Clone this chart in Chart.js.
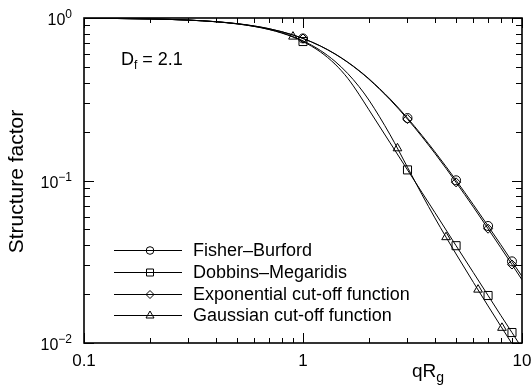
<!DOCTYPE html>
<html>
<head>
<meta charset="utf-8">
<script src="https://cdn.jsdelivr.net/npm/chart.js@4.4.1/dist/chart.umd.min.js"></script>
<style>
  html, body { margin: 0; padding: 0; background: #fff; }
</style>
</head>
<body>
<canvas id="sfCanvas" width="532" height="389"></canvas>
<script>
// structure factor curves, D_f = 2.1
var qRg = [0.1, 0.2, 0.3, 0.4, 0.5, 0.6, 0.7, 0.8, 0.9, 1, 1.2, 1.4, 1.6, 1.8, 2, 2.5, 3, 3.5, 4, 4.5, 5, 6, 7, 8, 9, 10];
var fisherBurford = [0.9967, 0.9868, 0.9709, 0.9493, 0.9229, 0.8926, 0.8592, 0.8235, 0.7864, 0.7486, 0.6735, 0.6017, 0.5355, 0.4758, 0.4229, 0.3173, 0.2423, 0.1889, 0.1503, 0.1218, 0.1003, 0.0709, 0.0525, 0.0403, 0.0318, 0.0257];
var dobbinsMegaridis = [0.9967, 0.9868, 0.9705, 0.9481, 0.9200, 0.8869, 0.8493, 0.8079, 0.7634, 0.7165, 0.6188, 0.5203, 0.4260, 0.3398, 0.2723, 0.1704, 0.1162, 0.0841, 0.0636, 0.0496, 0.0397, 0.0271, 0.0196, 0.0148, 0.0116, 0.0093];
var expCutoff = [0.9967, 0.9868, 0.9709, 0.9493, 0.9230, 0.8926, 0.8591, 0.8233, 0.7860, 0.7480, 0.6725, 0.6001, 0.5334, 0.4734, 0.4200, 0.3139, 0.2387, 0.1854, 0.1470, 0.1187, 0.0974, 0.0686, 0.0505, 0.0386, 0.0304, 0.0245];
var gaussCutoff = [0.9968, 0.9868, 0.9705, 0.9483, 0.9206, 0.8880, 0.8513, 0.8111, 0.7683, 0.7236, 0.6317, 0.5410, 0.4558, 0.3791, 0.3126, 0.1909, 0.1206, 0.0816, 0.0589, 0.0448, 0.0353, 0.0236, 0.0169, 0.0127, 0.0099, 0.0079];

// symbols
var markX = [1, 3, 5, 7, 9];
var fbMarks = [0.7486, 0.2423, 0.1003, 0.0525, 0.0318];
var dmMarks = [0.7165, 0.1162, 0.0397, 0.0196, 0.0116];
var expMarks = [0.7480, 0.2387, 0.0974, 0.0505, 0.0304];
var gaussMarkX = [0.9, 2.7, 4.5, 6.3, 8.1];
var gaussMarks = [0.7683, 0.1578, 0.0448, 0.0213, 0.0124];

var seriesNames = ["Fisher\u2013Burford", "Dobbins\u2013Megaridis", "Exponential cut-off function", "Gaussian cut-off function"];
var seriesSymbols = ["circle", "rect", "rectRot", "triangle"];

// axes
var xMajorTicks = [0.1, 1, 10];
var xTickLabels = ["0.1", "1", "10"];
var xMinorTicks = [0.2, 0.3, 0.4, 0.5, 0.6, 0.7, 0.8, 0.9, 2, 3, 4, 5, 6, 7, 8, 9];
var yMajorTicks = [0.01, 0.1, 1];
var yTickExponents = ["\u22122", "\u22121", "0"];
var yMinorTicks = [0.02, 0.03, 0.04, 0.05, 0.06, 0.07, 0.08, 0.09, 0.2, 0.3, 0.4, 0.5, 0.6, 0.7, 0.8, 0.9];

var FONT = "'Liberation Sans', Arial, Helvetica, sans-serif";

function toPoints(xs, ys) {
  return xs.map(function(x, i) { return {x: x, y: ys[i]}; });
}

function curve(ys) {
  return {
    data: toPoints(qRg, ys),
    showLine: true,
    borderColor: "#000",
    borderWidth: 1,
    pointRadius: 0,
    cubicInterpolationMode: "monotone"
  };
}

function marks(xs, ys, style, r) {
  return {
    data: toPoints(xs, ys),
    showLine: false,
    pointStyle: style,
    pointRadius: r,
    pointBorderWidth: 1,
    pointBorderColor: "#000",
    pointBackgroundColor: "rgba(0,0,0,0)"
  };
}

function symbol(ctx, style, x, y) {
  ctx.beginPath();
  if (style == "circle") {
    ctx.arc(x, y, 3.8, 0, Math.PI * 2);
  } else if (style == "rect") {
    ctx.rect(x - 3.5, y - 3.5, 7, 7);
  } else if (style == "rectRot") {
    ctx.moveTo(x, y - 4); ctx.lineTo(x + 4, y); ctx.lineTo(x, y + 4); ctx.lineTo(x - 4, y); ctx.closePath();
  } else {
    ctx.moveTo(x, y - 4.5); ctx.lineTo(x + 4, y + 2.5); ctx.lineTo(x - 4, y + 2.5); ctx.closePath();
  }
  ctx.stroke();
}

var framePlugin = {
  id: "frame",
  afterDatasetsDraw: function(chart) {
    var ctx = chart.ctx, a = chart.chartArea;
    var xs = chart.scales.x, ys = chart.scales.y;
    ctx.save();
    ctx.strokeStyle = "#000";
    ctx.fillStyle = "#000";
    ctx.lineWidth = 1;

    ctx.beginPath();
    xMajorTicks.concat(xMinorTicks).forEach(function(v) {
      var len = xMajorTicks.indexOf(v) >= 0 ? 10 : 5;
      var px = Math.round(xs.getPixelForValue(v)) + 0.5;
      ctx.moveTo(px, a.bottom); ctx.lineTo(px, a.bottom - len);
      ctx.moveTo(px, a.top); ctx.lineTo(px, a.top + len);
    });
    yMajorTicks.concat(yMinorTicks).forEach(function(v) {
      var len = yMajorTicks.indexOf(v) >= 0 ? 10 : 6;
      var py = Math.round(ys.getPixelForValue(v)) + 0.5;
      ctx.moveTo(a.left, py); ctx.lineTo(a.left + len, py);
      ctx.moveTo(a.right, py); ctx.lineTo(a.right - len, py);
    });
    ctx.stroke();

    ctx.lineWidth = 1.6;
    ctx.strokeRect(a.left, a.top, a.right - a.left, a.bottom - a.top);

    // x tick labels
    ctx.font = "17px " + FONT;
    ctx.textAlign = "center";
    ctx.textBaseline = "alphabetic";
    xMajorTicks.forEach(function(v, i) {
      ctx.fillText(xTickLabels[i], xs.getPixelForValue(v), a.bottom + 23);
    });

    // y tick labels 10^n
    yMajorTicks.forEach(function(v, i) {
      var py = ys.getPixelForValue(v);
      ctx.font = "12px " + FONT;
      ctx.textAlign = "left";
      var ew = ctx.measureText(yTickExponents[i]).width;
      var xr = a.left - 12;
      ctx.fillText(yTickExponents[i], xr - ew, py);
      ctx.font = "16px " + FONT;
      ctx.textAlign = "right";
      ctx.fillText("10", xr - ew, py + 7);
    });

    // axis titles
    ctx.font = "19px " + FONT;
    ctx.textAlign = "left";
    ctx.fillText("qR", 412, 377);
    var qw = ctx.measureText("qR").width;
    ctx.font = "14px " + FONT;
    ctx.fillText("g", 412 + qw, 382);

    ctx.save();
    ctx.translate(23, (a.top + a.bottom) / 2 + 1);
    ctx.rotate(-Math.PI / 2);
    ctx.font = "21px " + FONT;
    ctx.textAlign = "center";
    ctx.fillText("Structure factor", 0, 0);
    ctx.restore();

    // D_f annotation
    ctx.font = "18px " + FONT;
    ctx.textAlign = "left";
    ctx.fillText("D", 121, 65);
    var dw = ctx.measureText("D").width;
    ctx.font = "12px " + FONT;
    ctx.fillText("f", 121 + dw, 69);
    var fw = ctx.measureText("f").width;
    ctx.font = "18px " + FONT;
    ctx.fillText(" = 2.1", 121 + dw + fw, 65);

    // legend
    ctx.lineWidth = 1;
    ctx.textBaseline = "middle";
    seriesNames.forEach(function(name, i) {
      var ly = Math.round(250 + i * 21.8) + 0.5;
      ctx.beginPath();
      ctx.moveTo(114, ly); ctx.lineTo(182, ly);
      ctx.stroke();
      symbol(ctx, seriesSymbols[i], 150, ly);
      ctx.font = "18px " + FONT;
      ctx.fillText(name, 193, ly + 1);
    });
    ctx.restore();
  }
};

var chart = new Chart(document.getElementById("sfCanvas").getContext("2d"), {
  type: "scatter",
  data: {
    datasets: [
      curve(fisherBurford),
      curve(dobbinsMegaridis),
      curve(expCutoff),
      curve(gaussCutoff),
      marks(markX, fbMarks, "circle", 4.5),
      marks(markX, dmMarks, "rect", 5.7),
      marks(markX, expMarks, "rectRot", 4.5),
      marks(gaussMarkX, gaussMarks, "triangle", 5)
    ]
  },
  options: {
    responsive: false,
    animation: false,
    layout: {padding: {left: 84, right: 10, top: 18, bottom: 46}},
    scales: {
      x: {type: "logarithmic", min: 0.1, max: 10, display: false},
      y: {type: "logarithmic", min: 0.01, max: 1, display: false}
    },
    plugins: {legend: {display: false}, tooltip: {enabled: false}}
  },
  plugins: [framePlugin]
});
</script>
</body>
</html>
